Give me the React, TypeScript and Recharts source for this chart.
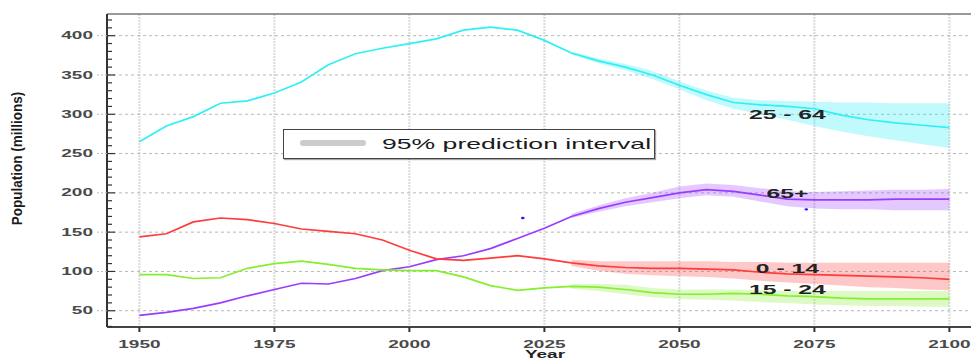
import React from 'react';
import {
  ComposedChart,
  Line,
  Area,
  Scatter,
  XAxis,
  YAxis,
  CartesianGrid,
  ReferenceLine,
  ReferenceDot,
  Legend,
  Label,
} from 'recharts';

// ---- data (millions) ----
const years = [
  1950, 1955, 1960, 1965, 1970, 1975, 1980, 1985, 1990, 1995, 2000, 2005, 2010, 2015, 2020, 2025,
  2030, 2035, 2040, 2045, 2050, 2055, 2060, 2065, 2070, 2075, 2080, 2085, 2090, 2095, 2100,
];
const age2564 = [
  265, 285, 297, 314, 317, 327, 341, 363, 377, 384, 390, 396, 407, 411, 407, 394,
  378, 368, 360, 350, 337, 325, 315, 312, 310, 307, 299, 293, 289, 286, 283,
];
const age65plus = [
  44, 48, 53, 60, 69, 77, 85, 84, 91, 101, 106, 115, 120, 129, 142, 155,
  170, 180, 188, 194, 200, 204, 202, 197, 192, 191, 191, 191, 192, 192, 192,
];
const age014 = [
  144, 148, 163, 168, 166, 161, 154, 151, 148, 140, 127, 116, 114, 117, 120, 116,
  111, 107, 105, 104, 104, 103, 102, 99, 97, 96, 95, 94, 93, 92, 90,
];
const age1524 = [
  96, 96, 91, 92, 104, 110, 113, 109, 104, 102, 101, 101, 93, 82, 76, 79,
  81, 80, 77, 73, 71, 71, 72, 71, 69, 68, 66, 65, 65, 65, 65,
];

// 95% prediction intervals, from 2030 on
const bandStartYear = 2030;
const low2564 = [376, 365, 356, 345, 332, 318, 307, 300, 293, 285, 278, 272, 267, 262, 257];
const high2564 = [380, 371, 364, 355, 342, 330, 321, 318, 317, 316, 315, 315, 314, 314, 314];
const low65plus = [168, 176, 183, 188, 193, 197, 195, 189, 183, 180, 179, 179, 178, 178, 178];
const high65plus = [173, 184, 193, 200, 208, 212, 210, 206, 202, 201, 202, 203, 204, 204, 205];
const low014 = [107, 101, 97, 95, 94, 93, 91, 88, 86, 84, 82, 80, 79, 77, 76];
const high014 = [115, 113, 113, 113, 113, 113, 112, 112, 111, 111, 111, 111, 111, 111, 111];
const low1524 = [78, 75, 71, 67, 65, 64, 63, 61, 60, 58, 57, 56, 56, 55, 55];
const high1524 = [84, 84, 83, 79, 77, 77, 77, 76, 75, 75, 75, 75, 75, 75, 75];

const seriesLabels = ['25 - 64', '65+', '0 - 14', '15 - 24'];
const labelYears = [2070, 2070, 2070, 2070];
const labelValues = [294, 193.5, 98, 71.5];

// stray blue marks in the source figure
const markerYears = [2021, 2073.5];
const markerValues = [168, 179];

const xTicks = [1950, 1975, 2000, 2025, 2050, 2075, 2100];
const yGridValues = [50, 100, 150, 200, 250, 300, 350, 400];
const yTicks = Array.from({ length: 40 }, (_, i) => 30 + i * 10); // minor ticks every 10

const X_MIN = 1944;
const X_MAX = 2104;
const Y_MIN = 29.3;
const Y_MAX = 427.6;

const colors = {
  c2564: '#2ff0f5',
  c65: '#9a3cff',
  c014: '#ff3b3b',
  c1524: '#86ee2e',
};

const FONT = '"Liberation Sans", Arial, Helvetica, sans-serif';
const STRETCH = 1.9; // the source figure is stretched horizontally
const Y_TICK_MARGIN = 14;

const bandIdx = years.indexOf(bandStartYear);
const band = (lo: number[], hi: number[], i: number) =>
  i >= bandIdx ? [lo[i - bandIdx], hi[i - bandIdx]] : null;

const chartData = years.map((year, i) => ({
  year,
  a2564: age2564[i],
  a65: age65plus[i],
  a014: age014[i],
  a1524: age1524[i],
  b2564: band(low2564, high2564, i),
  b65: band(low65plus, high65plus, i),
  b014: band(low014, high014, i),
  b1524: band(low1524, high1524, i),
}));

const markerData = markerYears.map((year, i) => ({ year, value: markerValues[i] }));

const YTick = (props: any) => {
  const { x, y, payload } = props;
  const v = payload.value;
  const major = v % 50 === 0;
  const axisX = x + Y_TICK_MARGIN;
  return (
    <g>
      {major && (
        <line x1={axisX - 10} x2={axisX} y1={y} y2={y} stroke="#bbb" strokeDasharray="2 2" />
      )}
      <line x1={axisX} x2={axisX + (major ? 8 : 5)} y1={y} y2={y} stroke="#333" strokeWidth={1.2} />
      {major && (
        <text
          transform={`translate(${x} ${y}) scale(${STRETCH} 1)`}
          dy={3.6}
          textAnchor="end"
          fontFamily={FONT}
          fontSize={10}
          fontWeight="bold"
          fill="#4a4a4a"
        >
          {v}
        </text>
      )}
    </g>
  );
};

const XTick = (props: any) => {
  const { x, y, payload } = props;
  return (
    <text
      transform={`translate(${x} ${y + 14}) scale(${STRETCH} 1)`}
      textAnchor="middle"
      fontFamily={FONT}
      fontSize={10}
      fontWeight="bold"
      fill="#4a4a4a"
    >
      {payload.value}
    </text>
  );
};

const SeriesLabel = ({ cx, cy, text }: any) => (
  <text
    transform={`translate(${cx} ${cy}) scale(${STRETCH} 1)`}
    textAnchor="middle"
    fontFamily={FONT}
    fontSize={13}
    fontWeight="bold"
    fill="#222"
  >
    {text}
  </text>
);

const Marker = ({ cx, cy }: any) => <ellipse cx={cx} cy={cy} rx={1.8} ry={1.2} fill="#1a1aff" />;

const IntervalLegend = () => (
  <div
    style={{
      width: 372,
      height: 30,
      boxSizing: 'border-box',
      border: '1.5px solid #444',
      background: '#fff',
      boxShadow: '1px 1px 1px rgba(0,0,0,0.35)',
    }}
  >
    <svg width={370} height={27} style={{ display: 'block' }}>
      <line x1={19} x2={79} y1={13} y2={13} stroke="#ccc" strokeWidth={6} strokeLinecap="round" />
      <text
        transform={`translate(98 18.5) scale(${STRETCH} 1)`}
        fontFamily={FONT}
        fontSize={14}
        fill="#1a1a1a"
      >
        95% prediction interval
      </text>
    </svg>
  </div>
);

export default function App() {
  return (
    <div style={{ position: 'absolute', left: 0, top: 0, background: '#fff' }}>
      <ComposedChart
        width={971}
        height={358}
        data={chartData}
        margin={{ top: 14, right: 0, bottom: 0, left: 0 }}
      >
        <CartesianGrid
          horizontal={false}
          verticalValues={xTicks}
          stroke="#dadada"
          strokeWidth={2}
          strokeDasharray="2 1"
        />
        <CartesianGrid
          vertical={false}
          horizontalValues={yGridValues}
          stroke="#b8b8b8"
          strokeDasharray="3 3"
        />
        <XAxis
          dataKey="year"
          type="number"
          domain={[X_MIN, X_MAX]}
          ticks={xTicks}
          allowDataOverflow
          height={31}
          axisLine={{ stroke: '#444', strokeWidth: 2 }}
          tickLine={{ stroke: '#333', strokeWidth: 2 }}
          tickSize={5}
          tick={<XTick />}
          interval={0}
        >
          <Label
            content={(p: any) => {
              const vb = p.viewBox;
              return (
                <text
                  transform={`translate(${vb.x + vb.width / 2 + 6} ${vb.y + 30.5}) scale(${STRETCH} 1)`}
                  textAnchor="middle"
                  fontFamily={FONT}
                  fontSize={10}
                  fontWeight="bold"
                  fill="#222"
                >
                  Year
                </text>
              );
            }}
          />
        </XAxis>
        <YAxis
          type="number"
          domain={[Y_MIN, Y_MAX]}
          ticks={yTicks}
          allowDataOverflow
          width={107}
          axisLine={{ stroke: '#333', strokeWidth: 2 }}
          tickLine={false}
          tickSize={0}
          tickMargin={Y_TICK_MARGIN}
          tick={<YTick />}
          interval={0}
        >
          <Label
            content={(p: any) => {
              const vb = p.viewBox;
              const cy = vb.y + vb.height / 2 - 12;
              return (
                <text
                  transform={`translate(22 ${cy}) rotate(-90) scale(1 1.15)`}
                  textAnchor="middle"
                  fontFamily={FONT}
                  fontSize={13.5}
                  fontWeight="bold"
                  fill="#1a1a1a"
                >
                  Population (millions)
                </text>
              );
            }}
          />
        </YAxis>
        <ReferenceLine y={Y_MAX} stroke="#777" strokeWidth={1.5} />

        <Area type="linear" dataKey="b2564" stroke="none" fill={colors.c2564} fillOpacity={0.3} isAnimationActive={false} />
        <Area type="linear" dataKey="b65" stroke="none" fill={colors.c65} fillOpacity={0.28} isAnimationActive={false} />
        <Area type="linear" dataKey="b014" stroke="none" fill={colors.c014} fillOpacity={0.28} isAnimationActive={false} />
        <Area type="linear" dataKey="b1524" stroke="none" fill={colors.c1524} fillOpacity={0.28} isAnimationActive={false} />

        <Line type="linear" dataKey="a2564" stroke={colors.c2564} strokeWidth={1.7} dot={false} isAnimationActive={false} />
        <Line type="linear" dataKey="a65" stroke={colors.c65} strokeWidth={1.7} dot={false} isAnimationActive={false} />
        <Line type="linear" dataKey="a014" stroke={colors.c014} strokeWidth={1.7} dot={false} isAnimationActive={false} />
        <Line type="linear" dataKey="a1524" stroke={colors.c1524} strokeWidth={1.7} dot={false} isAnimationActive={false} />

        <Scatter data={markerData} dataKey="value" shape={<Marker />} isAnimationActive={false} />

        {seriesLabels.map((text, i) => (
          <ReferenceDot
            key={text}
            x={labelYears[i]}
            y={labelValues[i]}
            r={0}
            shape={(p: any) => <SeriesLabel {...p} text={text} />}
          />
        ))}

        <Legend
          layout="horizontal"
          verticalAlign="middle"
          align="center"
          wrapperStyle={{ left: 283, top: 129, width: 372, height: 30 }}
          content={() => <IntervalLegend />}
        />
      </ComposedChart>
    </div>
  );
}
